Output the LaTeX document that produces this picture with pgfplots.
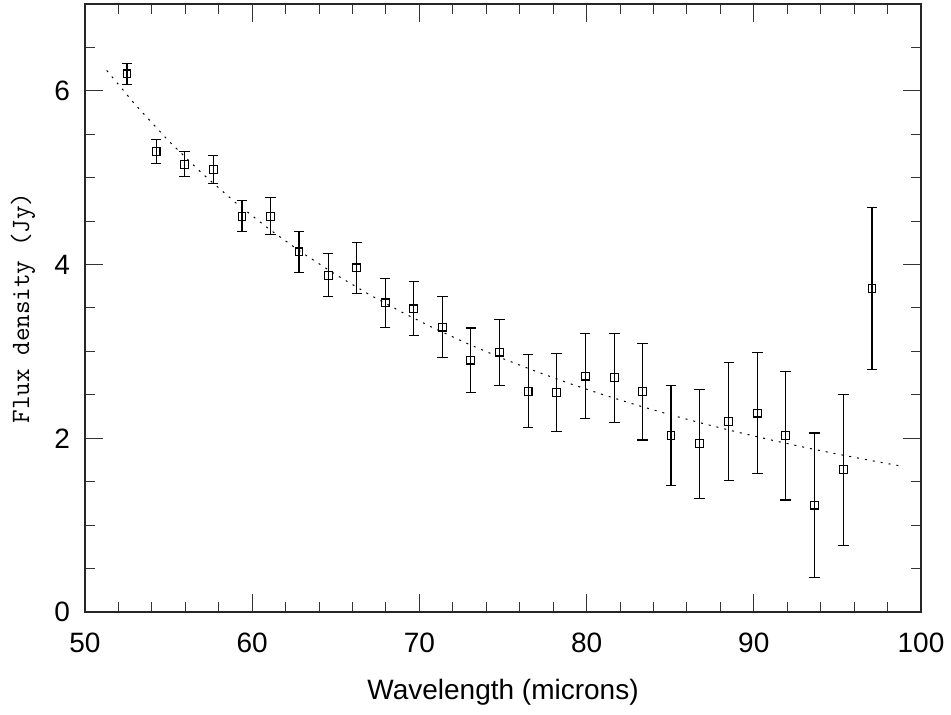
\documentclass[border=0pt]{standalone}
\usepackage{fontspec}
\setmainfont{Liberation Sans}
\usepackage{pgfplots}
\usepackage{pgfplotstable}
\pgfplotsset{compat=1.18}

\pgfplotstableread{
x y err
52.51 6.195 0.12
54.25 5.300 0.135
55.94 5.155 0.145
57.67 5.094 0.165
59.39 4.557 0.18
61.10 4.557 0.21
62.80 4.146 0.235
64.55 3.878 0.25
66.25 3.962 0.29
67.96 3.559 0.28
69.66 3.490 0.31
71.37 3.280 0.35
73.07 2.900 0.37
74.78 2.992 0.38
76.50 2.540 0.42
78.21 2.528 0.45
79.92 2.716 0.49
81.66 2.696 0.51
83.35 2.535 0.555
85.05 2.029 0.575
86.76 1.937 0.627
88.50 2.190 0.68
90.21 2.290 0.695
91.90 2.029 0.74
93.64 1.231 0.83
95.36 1.638 0.87
97.07 3.725 0.93
}\fluxdata

\pgfplotstableread{
x y
51.3 6.235
53 5.842
55 5.424
57 5.050
59 4.714
61 4.410
63 4.134
65 3.884
67 3.655
69 3.447
71 3.255
73 3.079
75 2.917
77 2.768
79 2.629
81 2.501
83 2.382
85 2.271
87 2.168
89 2.072
91 1.982
93 1.897
95 1.818
97 1.744
98.7 1.684
}\fitdata

\begin{document}
\begin{tikzpicture}
\begin{axis}[
  scale only axis,
  width=418pt, height=304pt,
  xmin=50, xmax=100, ymin=0, ymax=7,
  xtick={50,60,...,100},
  minor xtick={52,54,...,98},
  ytick={0,2,4,6},
  minor ytick={0.5,1,...,6.5},
  tick align=inside,
  tick pos=both,
  major tick length=9pt,
  minor tick length=4.8pt,
  axis line style={line width=0.7pt, black!85},
  every tick/.style={line width=0.5pt, black!80},
  /pgf/number format/assume math mode=true,
  tick label style={font=\fontsize{14}{16}\selectfont},
  xticklabel style={yshift=-7pt},
  yticklabel style={xshift=-4pt},
  xlabel={Wavelength (microns)},
  xlabel style={font=\fontsize{14}{16}\selectfont, at={(axis description cs:0.5,0)}, anchor=center, yshift=-40pt},
  ylabel={Flux density (Jy)},
  ylabel style={font=\ttfamily\fontsize{13.2}{15}\selectfont, at={(axis description cs:0,0.5)}, anchor=center, yshift=31pt},
  clip=false,
]
\addplot[black, line width=0.5pt, dash pattern=on 1pt off 3pt] table[x=x, y=y] {\fitdata};
\addplot[
  only marks, black,
  mark=square, mark size=1.95pt, mark options={line width=0.55pt, solid},
  error bars/.cd, y dir=both, y explicit,
  error bar style={line width=0.55pt, black},
  error mark options={rotate=90, mark size=2.6pt, line width=0.55pt, black},
] table[x=x, y=y, y error=err] {\fluxdata};
\end{axis}
\pgfresetboundingbox
\path ([shift={(-42.5pt,-51.5pt)}]current axis.south west) rectangle ([shift={(15pt,2pt)}]current axis.north east);
\end{tikzpicture}
\end{document}
